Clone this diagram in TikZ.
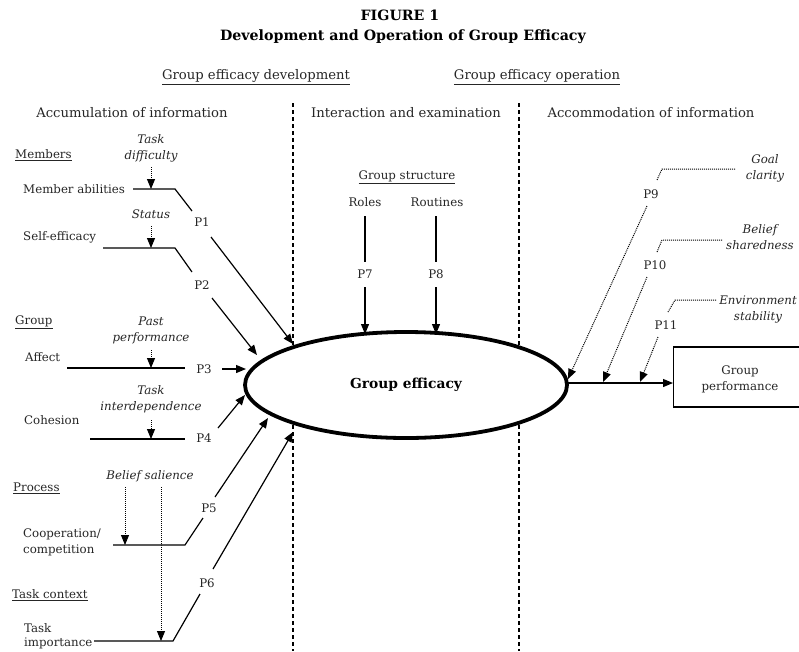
\documentclass[tikz,border=0pt]{standalone}
\usepackage{fontspec}
\setmainfont{DejaVu Serif}
\usetikzlibrary{arrows.meta,shapes.geometric}
\begin{document}
\begin{tikzpicture}[x=1pt,y=-1pt,
  lbl/.style={font=\fontsize{11.8}{16}\selectfont, inner sep=0pt, text=black!85},
  ital/.style={font=\fontsize{11.8}{16}\selectfont\itshape, inner sep=0pt, align=center, text=black!85},
  head/.style={font=\fontsize{13.2}{15}\selectfont, inner sep=0pt, text=black!85},
  ttl/.style={font=\fontsize{14.2}{17}\selectfont\bfseries, inner sep=0pt},
  ln/.style={line width=1.2pt},
  arr/.style={line width=1.2pt, -{Triangle[length=10pt,width=8pt]}},
  dot/.style={densely dotted, line width=1pt},
  darr/.style={densely dotted, line width=1pt, -{Triangle[length=10pt,width=8pt]}},
  sep/.style={dashed, dash pattern=on 4pt off 3pt, line width=1.2pt}
]
\useasboundingbox (0,0) rectangle (799,651);
\clip (0,0) rectangle (799,651);

% titles
\node[ttl] (fig) at (400,15) {FIGURE 1};
\node[ttl] (title) at (403,37) {Development and Operation of Group Efficacy};
\node[head] (gedev) at (256,77) {\underline{Group efficacy development}};
\node[head] (geop) at (537,77) {\underline{Group efficacy operation}};
\node[head] (acc) at (132,113) {Accumulation of information};
\node[head] (inter) at (406,113) {Interaction and examination};
\node[head] (accom) at (651,113) {Accommodation of information};

% separators
\coordinate (s1t) at (293,103); \coordinate (s1b) at (293,651);
\coordinate (s2t) at (519,103); \coordinate (s2b) at (519,651);
\draw[sep] (s1t) -- (s1b);
\draw[sep] (s2t) -- (s2b);

% central ellipse
\node[ellipse, draw, line width=3.8pt, minimum width=322pt, minimum height=106pt,
      font=\fontsize{13.8}{16}\selectfont\bfseries, fill=white] (eff) at (406,385) {Group efficacy};

% ---------- Members ----------
\node[lbl, anchor=west] (members) at (15,155) {\underline{Members}};
\node[ital] (taskdiff) at (151,148) {Task\\difficulty};
\node[lbl, anchor=west] (memab) at (23,189) {Member abilities};
\coordinate (ma1) at (133,189); \coordinate (ma2) at (175,189); \coordinate (ma3) at (192,211);
\coordinate (td1) at (151,167); \coordinate (td2) at (151,189);
\draw[ln] (ma1) -- (ma2) -- (ma3);
\draw[darr] (td1) -- (td2);
\node[lbl] (p1) at (202,222) {P1};
\coordinate (p1a) at (211,237); \coordinate (p1b) at (293,344);
\draw[arr] (p1a) -- (p1b);

\node[ital] (status) at (151,214) {Status};
\node[lbl, anchor=west] (selfeff) at (23,237) {Self-efficacy};
\coordinate (se1) at (103,248); \coordinate (se2) at (175,248); \coordinate (se3) at (192,272);
\coordinate (st1) at (151,226); \coordinate (st2) at (151,248);
\draw[ln] (se1) -- (se2) -- (se3);
\draw[darr] (st1) -- (st2);
\node[lbl] (p2) at (202,285) {P2};
\coordinate (p2a) at (212,298); \coordinate (p2b) at (257,355);
\draw[arr] (p2a) -- (p2b);

% ---------- Group ----------
\node[lbl, anchor=west] (group) at (15,322) {\underline{Group}};
\node[ital] (pastperf) at (151,330) {Past\\performance};
\node[lbl, anchor=west] (affect) at (25,357) {Affect};
\coordinate (af1) at (67,368); \coordinate (af2) at (185,368);
\coordinate (pp1) at (151,350); \coordinate (pp2) at (151,368);
\draw[ln] (af1) -- (af2);
\draw[darr] (pp1) -- (pp2);
\node[lbl] (p3) at (204,369) {P3};
\coordinate (p3a) at (222,369); \coordinate (p3b) at (246,369);
\draw[arr] (p3a) -- (p3b);

\node[ital] (taskint) at (151,399) {Task\\interdependence};
\node[lbl, anchor=west] (cohesion) at (24,420) {Cohesion};
\coordinate (co1) at (90,439); \coordinate (co2) at (185,439);
\coordinate (ti1) at (151,420); \coordinate (ti2) at (151,439);
\draw[ln] (co1) -- (co2);
\draw[darr] (ti1) -- (ti2);
\node[lbl] (p4) at (204,438) {P4};
\coordinate (p4a) at (218,428); \coordinate (p4b) at (245,395);
\draw[arr] (p4a) -- (p4b);

% ---------- Process ----------
\node[lbl, anchor=west] (process) at (13,488) {\underline{Process}};
\node[ital] (beliefsal) at (150,476) {Belief salience};
\node[lbl, anchor=west, align=left] (coop) at (23,542) {Cooperation/\\competition};
\coordinate (cp1) at (113,545); \coordinate (cp2) at (185,545); \coordinate (cp3) at (203,518);
\draw[ln] (cp1) -- (cp2) -- (cp3);
\coordinate (bs1) at (125,487); \coordinate (bs2) at (125,545);
\coordinate (bs3) at (161,487); \coordinate (bs4) at (161,641);
\draw[darr] (bs1) -- (bs2);
\draw[darr] (bs3) -- (bs4);
\node[lbl] (p5) at (209,508) {P5};
\coordinate (p5a) at (215,497); \coordinate (p5b) at (268,418);
\draw[arr] (p5a) -- (p5b);

% ---------- Task context ----------
\node[lbl, anchor=west] (taskctx) at (12,595) {\underline{Task context}};
\node[lbl, anchor=west, align=left, font=\fontsize{11.8}{14}\selectfont] (taskimp) at (24,636) {Task\\importance};
\coordinate (tc1) at (94,641); \coordinate (tc2) at (173,641); \coordinate (tc3) at (200,594);
\draw[ln] (tc1) -- (tc2) -- (tc3);
\node[lbl] (p6) at (207,583) {P6};
\coordinate (p6a) at (213,569); \coordinate (p6b) at (293,432);
\draw[arr] (p6a) -- (p6b);

% ---------- Group structure ----------
\node[lbl] (gstruct) at (407,177) {\underline{Group structure}};
\node[lbl] (roles) at (365,202) {Roles};
\node[lbl] (routines) at (437,202) {Routines};
\node[lbl] (p7) at (365,274) {P7};
\node[lbl] (p8) at (436,274) {P8};
\coordinate (r1) at (365,216); \coordinate (r2) at (365,262);
\coordinate (r3) at (365,287); \coordinate (r4) at (365,334);
\coordinate (u1) at (436,216); \coordinate (u2) at (436,262);
\coordinate (u3) at (436,287); \coordinate (u4) at (436,334);
\draw[ln] (r1) -- (r2);
\draw[arr] (r3) -- (r4);
\draw[ln] (u1) -- (u2);
\draw[arr] (u3) -- (u4);

% ---------- Right side ----------
\node[draw, line width=1.2pt, minimum width=160pt, minimum height=60pt, anchor=west,
      inner sep=0pt] (perfbox) at (673,377) {};
\node[lbl, align=center] (perf) at (740,379) {Group\\performance};
\coordinate (er) at (567,383); \coordinate (bl) at (673,383);
\draw[arr] (er) -- (bl);

\node[ital] (goal) at (765,168) {Goal\\clarity};
\coordinate (g1) at (735,169); \coordinate (g2) at (662,169); \coordinate (g3) at (657,180);
\draw[dot] (g1) -- (g2) -- (g3);
\node[lbl] (p9) at (651,194) {P9};
\coordinate (g4) at (647,206); \coordinate (g5) at (568,379);
\draw[darr] (g4) -- (g5);

\node[ital] (belief) at (760,237) {Belief\\sharedness};
\coordinate (b1) at (722,240); \coordinate (b2) at (662,240); \coordinate (b3) at (657,252);
\draw[dot] (b1) -- (b2) -- (b3);
\node[lbl] (p10) at (655,265) {P10};
\coordinate (b4) at (647,277); \coordinate (b5) at (603,382);
\draw[darr] (b4) -- (b5);

\node[ital] (env) at (758,309) {Environment\\stability};
\coordinate (e1) at (716,300); \coordinate (e2) at (675,300); \coordinate (e3) at (668,312);
\draw[dot] (e1) -- (e2) -- (e3);
\node[lbl] (p11) at (666,325) {P11};
\coordinate (e4) at (658,337); \coordinate (e5) at (640,382);
\draw[darr] (e4) -- (e5);
\end{tikzpicture}
\end{document}
